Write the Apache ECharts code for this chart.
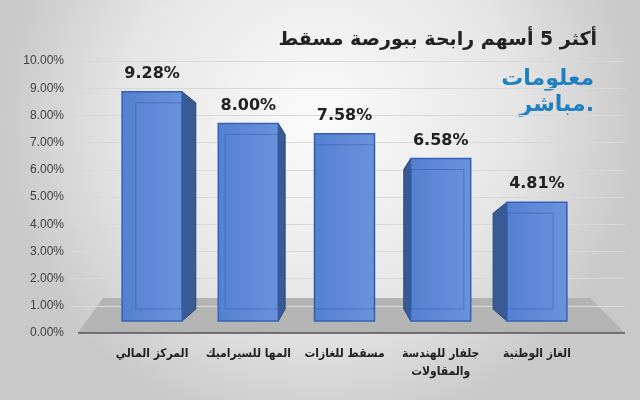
<!DOCTYPE html>
<html><head><meta charset="utf-8">
<script src="https://cdn.jsdelivr.net/npm/echarts@6/dist/echarts.min.js"></script>
<style>html,body{margin:0;padding:0}#c{width:640px;height:400px}</style></head>
<body><div id="c"></div>
<script>
const categories = ['المركز المالي','المها للسيراميك','مسقط للغازات','جلفار للهندسة\nوالمقاولات','الغاز الوطنية'];
const values = [9.28, 8.00, 7.58, 6.58, 4.81];
const yTicks = [0,1,2,3,4,5,6,7,8,9,10];
const title = 'أكثر 5 أسهم رابحة ببورصة مسقط';

const chart = echarts.init(document.getElementById('c'));
chart.setOption({
  backgroundColor: {type:'radial', x:0.5, y:0.3, r:0.8, colorStops:[{offset:0,color:'#fbfbfb'},{offset:0.6,color:'#e6e6e6'},{offset:1,color:'#c9c9c9'}]},
  animation:false,
  title:{text:title, right:38, top:26, textStyle:{fontSize:19, fontWeight:'bold', color:'#222', fontFamily:'DejaVu Sans, Arial'}},
  graphic:[
    {type:'polygon', z:0, shape:{points:[[78,333],[625,333],[590,298],[103,298]]}, style:{fill:'#b4b4b4'}},
    {type:'line', z:1, shape:{x1:78,y1:333,x2:625,y2:333}, style:{stroke:'#555', lineWidth:1.5}},
    {type:'text', right:46, top:68, style:{text:'معلومات', font:'bold 22px DejaVu Sans', fill:'#1f7fc1'}},
    {type:'text', right:46, top:94, style:{text:'مباشر.', font:'bold 22px DejaVu Sans', fill:'#1f7fc1'}}
  ],
  grid:[{left:70, right:15, top:61, bottom:67},{left:104, right:55, top:74, bottom:79}],
  xAxis:[
    {gridIndex:0, type:'value', show:false},
    {gridIndex:1, type:'category', data:categories, axisLine:{show:false}, axisTick:{show:false},
     axisLabel:{interval:0, margin:24, fontSize:12, fontWeight:'bold', color:'#222', fontFamily:'DejaVu Sans Condensed, DejaVu Sans', lineHeight:18, verticalAlign:'top'}}
  ],
  yAxis:[
    {gridIndex:0, type:'value', min:0, max:10, interval:1, axisLine:{show:false}, axisTick:{show:false},
     splitLine:{lineStyle:{color:'#d8d8d8'}},
     axisLabel:{formatter:v=>yTicks.includes(v)?v.toFixed(2)+'%':'', fontSize:12, color:'#404040', margin:6}},
    {gridIndex:1, type:'value', min:0, max:10, show:false}
  ],
  series:[{
    type:'custom', xAxisIndex:1, yAxisIndex:1, data:values.map((v,i)=>[i,v]),
    renderItem:(params, api)=>{
      const top = api.coord([api.value(0), api.value(1)]);
      const bot = api.coord([api.value(0), 0]);
      const w = 60, cx = top[0], x0 = cx-w/2, x1 = cx+w/2;
      const dx = (344-cx)/14;
      const ex = dx>=0 ? x1 : x0;
      const children = [];
      if (Math.abs(dx)>1) children.push({type:'polygon', shape:{points:[[ex,top[1]],[ex+dx,top[1]+11],[ex+dx,bot[1]-12],[ex,bot[1]]]},
        style:{fill:'#3a5a94', stroke:'#2c4676', lineWidth:1}});
      children.push({type:'rect', shape:{x:x0,y:top[1],width:w,height:bot[1]-top[1]},
        style:{fill:{type:'linear',x:0,y:0,x2:1,y2:0,colorStops:[{offset:0,color:'#5480d0'},{offset:1,color:'#6a92dc'}]}, stroke:'#3660b5', lineWidth:1.5}});
      const ix = dx>=0 ? x0+Math.abs(dx) : x0;
      children.push({type:'rect', shape:{x:ix,y:top[1]+11,width:w-Math.abs(dx),height:bot[1]-top[1]-23},
        style:{fill:'none', stroke:'rgba(40,70,140,0.35)', lineWidth:1}});
      children.push({type:'text', style:{text:api.value(1).toFixed(2)+'%', x:cx, y:top[1]-10, align:'center', verticalAlign:'bottom',
        font:'bold 16px DejaVu Sans, Arial', fill:'#222'}});
      return {type:'group', children};
    }
  }]
});
</script></body></html>
